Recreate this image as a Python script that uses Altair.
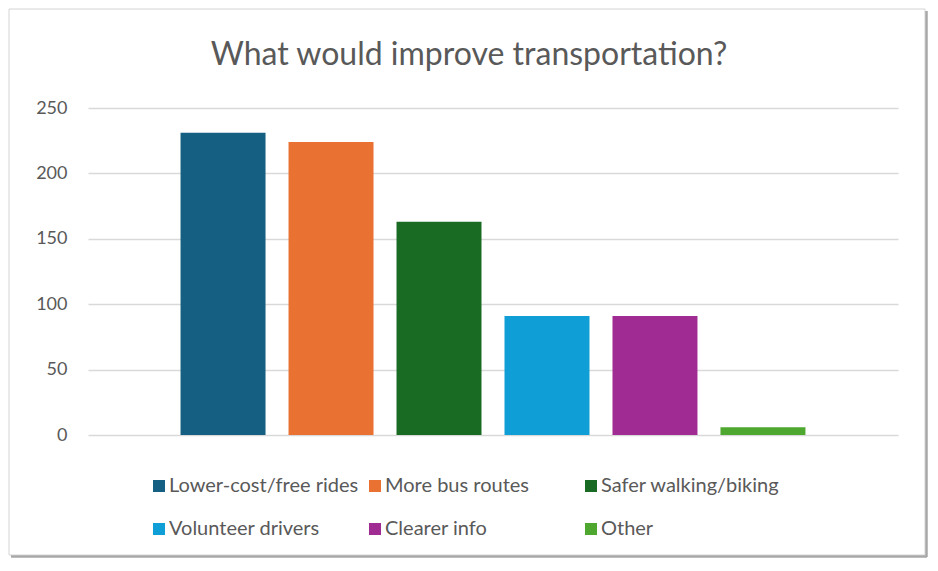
import altair as alt
import pandas as pd

categories = ["Lower-cost/free rides", "More bus routes", "Safer walking/biking",
              "Volunteer drivers", "Clearer info", "Other"]
counts = [231, 224, 163, 91, 91, 6]
colors = ["#156082", "#E97132", "#196B24", "#0F9ED5", "#A02B93", "#4EA72E"]
y_ticks = [0, 50, 100, 150, 200, 250]

df = pd.DataFrame({"category": categories, "count": counts})

W, H = 810, 327
PAD_L, PAD_T, PAD_R, PAD_B = 80, 100, 30, 123

frame_df = pd.DataFrame({"k": [0]})

frame = alt.Chart(frame_df).mark_rect(
    fillOpacity=0, stroke="#D4D4D4", strokeWidth=1
).encode(
    x=alt.value(-PAD_L + 1), x2=alt.value(W + PAD_R - 3),
    y=alt.value(-PAD_T + 1), y2=alt.value(H + PAD_B - 3),
)
shadow_r = alt.Chart(frame_df).mark_rule(color="#A8A8A8", strokeWidth=2.5).encode(
    x=alt.value(W + PAD_R - 1.5), y=alt.value(-PAD_T + 3), y2=alt.value(H + PAD_B - 1)
)
shadow_b = alt.Chart(frame_df).mark_rule(color="#A8A8A8", strokeWidth=2.5).encode(
    y=alt.value(H + PAD_B - 1.5), x=alt.value(-PAD_L + 3), x2=alt.value(W + PAD_R - 1)
)

bars = alt.Chart(df).mark_bar().encode(
    x=alt.X("category:N", sort=categories, axis=None,
            scale=alt.Scale(paddingInner=0.213, paddingOuter=0.857)),
    y=alt.Y("count:Q", title=None,
            scale=alt.Scale(domain=[0, 250], nice=False),
            axis=alt.Axis(values=y_ticks, ticks=False, domain=False,
                          labelFont="Lato", labelFontSize=18, labelColor="#595959",
                          labelPadding=21, gridColor="#D9D9D9", gridWidth=1.5)),
    color=alt.Color("category:N", sort=categories,
                    scale=alt.Scale(domain=categories, range=colors),
                    legend=alt.Legend(orient="none", legendX=61, legendY=368,
                                      columns=3, direction="horizontal",
                                      gridAlign="all", symbolType="square",
                                      symbolSize=144, symbolStrokeWidth=0,
                                      labelFont="Lato", labelFontSize=20,
                                      labelColor="#595959", labelOffset=0,
                                      columnPadding=6, rowPadding=23,
                                      labelLimit=400, title=None, padding=0)),
)

chart = alt.layer(frame, shadow_r, shadow_b, bars).properties(
    width=W, height=H,
    autosize=alt.AutoSizeParams(type="none"),
    padding={"left": PAD_L, "top": PAD_T, "right": PAD_R, "bottom": PAD_B},
    title=alt.TitleParams("What would improve transportation?", font="Lato",
                          fontSize=32, fontWeight="normal", color="#595959",
                          anchor="middle", dx=-24, dy=88, offset=0,
                          baseline="alphabetic"),
).configure_view(stroke=None)

chart.save("out.html", embed_options={"renderer": "svg", "actions": False})
